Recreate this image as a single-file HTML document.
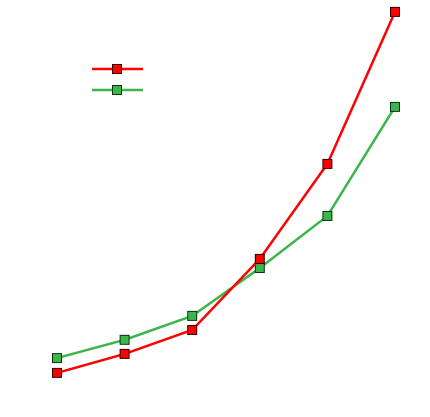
<!DOCTYPE html>
<html><head><meta charset="utf-8"><style>
html,body{margin:0;padding:0;background:#fff;width:430px;height:417px;overflow:hidden}
svg{display:block}
</style></head><body>
<svg id="chart" width="430" height="417" xmlns="http://www.w3.org/2000/svg">
<g id="legend">
  <g>
    <line x1="92" y1="69" x2="143" y2="69" stroke="#ff0000" stroke-width="2.5"/>
    <rect x="112.5" y="64.5" width="9" height="9" fill="#ff0000" stroke="#330000" stroke-width="1"/>
  </g>
  <g>
    <line x1="92" y1="90" x2="143" y2="90" stroke="#3cb54a" stroke-width="2.5"/>
    <rect x="112.5" y="85.5" width="9" height="9" fill="#3cb54a" stroke="#0a3314" stroke-width="1"/>
  </g>
</g>
<g id="plot"></g>
</svg>
<script>
const categories = [0, 1, 2, 3, 4, 5];
const redValues = [4.5, 9.5, 15.8, 34.5, 59.5, 99.5];
const greenValues = [8.4, 13.2, 19.5, 32.1, 45.8, 74.5];

const xScale = i => 57 + i * 67.6;
const yScale = v => 390 - v * 3.8;
const plot = document.getElementById('plot');
const NS = 'http://www.w3.org/2000/svg';

function drawSeries(values, color, edge, name) {
  const g = document.createElementNS(NS, 'g');
  
  
  const pl = document.createElementNS(NS, 'polyline');
  pl.setAttribute('points', values.map((v, i) => xScale(categories[i]) + ',' + yScale(v)).join(' '));
  pl.setAttribute('fill', 'none');
  pl.setAttribute('stroke', color);
  pl.setAttribute('stroke-width', '2.5');
  
  
  g.appendChild(pl);
  values.forEach((v, i) => {
    const r = document.createElementNS(NS, 'rect');
    r.setAttribute('x', xScale(categories[i]) - 4.5);
    r.setAttribute('y', yScale(v) - 4.5);
    r.setAttribute('width', 9);
    r.setAttribute('height', 9);
    r.setAttribute('fill', color);
    r.setAttribute('stroke', edge);
    r.setAttribute('stroke-width', '1');
    
    
    g.appendChild(r);
  });
  plot.appendChild(g);
}
drawSeries(greenValues, '#3cb54a', '#0a3314', 'green');
drawSeries(redValues, '#ff0000', '#330000', 'red');
</script>
</body></html>
